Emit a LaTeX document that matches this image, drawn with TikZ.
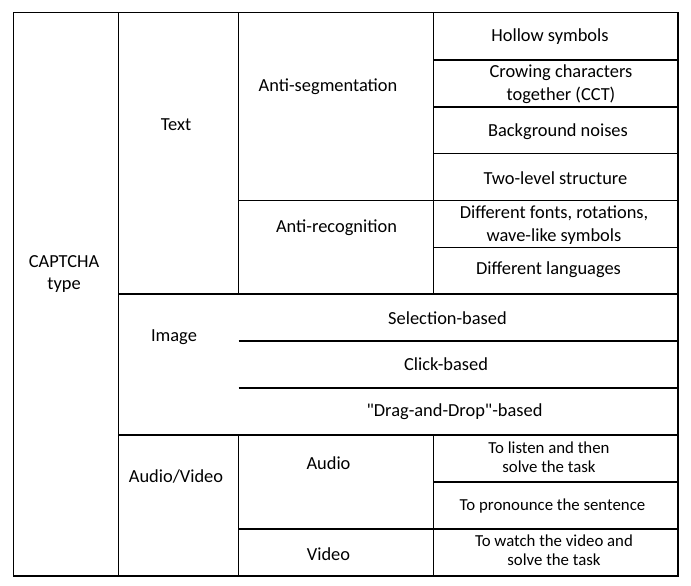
\documentclass[tikz,border=0pt]{standalone}
\usepackage{fontspec}
\setmainfont{Carlito}[Ligatures=TeXOff]
\begin{document}
\begin{tikzpicture}[x=1pt,y=-1pt,
  grid/.style={line width=1.3pt,black},
  lbl/.style={font=\fontsize{18.4}{22.5}\selectfont,align=center,inner sep=0pt,anchor=base},
  sml/.style={font=\fontsize{16.8}{19}\selectfont,align=center,inner sep=0pt,anchor=base}]
\useasboundingbox (0,0) rectangle (691,586);
% outer frame
\draw[grid] (13.5,12.5) rectangle (678,576);
% column separators
\draw[grid] (118.5,12.5) -- (118.5,576);
\draw[grid] (238.5,12.5) -- (238.5,294) (238.5,435) -- (238.5,576);
\draw[grid] (433.5,12.5) -- (433.5,294) (433.5,435) -- (433.5,576);
% row separators
\draw[grid] (433.5,60) -- (678,60);
\draw[grid] (433.5,107) -- (678,107);
\draw[grid] (433.5,153.5) -- (678,153.5);
\draw[grid] (238.5,200.5) -- (678,200.5);
\draw[grid] (433.5,247.5) -- (678,247.5);
\draw[grid] (118.5,294) -- (678,294);
\draw[grid] (238.5,341) -- (678,341);
\draw[grid] (238.5,388) -- (678,388);
\draw[grid] (118.5,435) -- (678,435);
\draw[grid] (433.5,482) -- (678,482);
\draw[grid] (238.5,529) -- (678,529);
% labels (base anchor sits on the last line's baseline)
\node[lbl] (captcha) at (64,289.5) {CAPTCHA\\type};
\node[lbl] (text) at (176,130) {Text};
\node[lbl] (image) at (174,341) {Image};
\node[lbl] (av) at (176,482.5) {Audio/Video};
\node[lbl] (antiseg) at (328,91.5) {Anti-segmentation};
\node[lbl] (antirec) at (336.5,232.5) {Anti-recognition};
\node[lbl] (hollow) at (550,42) {Hollow symbols};
\node[lbl] (cct) at (561,100) {Crowing characters\\together (CCT)};
\node[lbl] (noise) at (558,136) {Background noises};
\node[lbl] (twolevel) at (555.5,184) {Two-level structure};
\node[lbl] (fonts) at (554,241) {Different fonts, rotations,\\wave-like symbols};
\node[lbl] (lang) at (548.5,274.5) {Different languages};
\node[lbl] (sel) at (447.5,324) {Selection-based};
\node[lbl] (click) at (446,370) {Click-based};
\node[lbl] (dnd) at (454.5,416.5) {"Drag-and-Drop"-based};
\node[lbl] (audio) at (328.5,469) {Audio};
\node[lbl] (video) at (328.5,560) {Video};
\node[sml] (listen) at (549,472) {To listen and then\\solve the task};
\node[sml] (pron) at (552.5,510.5) {To pronounce the sentence};
\node[sml] (watch) at (554,565) {To watch the video and\\solve the task};
\end{tikzpicture}
\end{document}
